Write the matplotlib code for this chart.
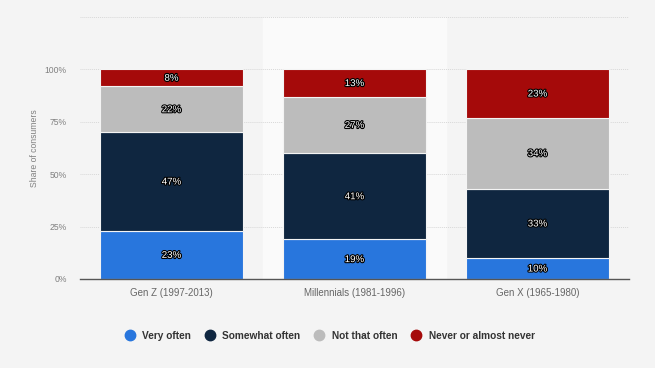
import matplotlib
matplotlib.use("Agg")
import matplotlib.pyplot as plt
import matplotlib.patheffects as pe
from matplotlib.lines import Line2D
import numpy as np

plt.rcParams['font.family'] = ['Liberation Sans', 'DejaVu Sans']

categories = ["Gen Z (1997-2013)", "Millennials (1981-1996)", "Gen X (1965-1980)"]
series_names = ["Very often", "Somewhat often", "Not that often", "Never or almost never"]
very_often = [23, 19, 10]
somewhat_often = [47, 41, 33]
not_that_often = [22, 27, 34]
never = [8, 13, 23]
yticks = [0, 25, 50, 75, 100]
ytick_labels = ["0%", "25%", "50%", "75%", "100%"]

colors = ["#2876dd", "#0f2640", "#bcbcbc", "#a50a0a"]
series = [very_often, somewhat_often, not_that_often, never]

fig = plt.figure(figsize=(6.55, 3.68), dpi=100)
fig.patch.set_facecolor("#f4f4f4")
ax = fig.add_axes([80/655, 1-279/368, 549/655, 262/368])
ax.set_facecolor("#f4f4f4")

x = np.arange(len(categories))
ax.set_xlim(-0.5, len(categories)-0.5)
ax.set_ylim(0, 125)

# highlight band for middle category
ax.axvspan(0.5, 1.5, color="#fafafa", zorder=0)

for yv in [25, 50, 75, 100, 125]:
    ax.axhline(yv, color="#d8d8d8", lw=0.7, ls=(0, (1, 1)), zorder=0.5)

bottom = np.zeros(len(categories))
for vals, col in zip(series, colors):
    vals = np.array(vals, dtype=float)
    ax.bar(x, vals, bottom=bottom, width=0.776, color=col, edgecolor="#f4f4f4",
           linewidth=0.8, zorder=2)
    for xi, b, v in zip(x, bottom, vals):
        ax.text(xi, b + v/2, f"{int(v)}%", ha="center", va="center", fontsize=7,
                color="white", zorder=3,
                path_effects=[pe.withStroke(linewidth=1.6, foreground="black")])
    bottom += vals

ax.set_xticks(x)
ax.set_xticklabels(categories, fontsize=7, color="#666666")
ax.set_yticks(yticks)
ax.set_yticklabels(ytick_labels, fontsize=6.2, color="#808080")
ax.tick_params(axis="both", length=0)
ax.tick_params(axis="x", pad=6.5)
ax.tick_params(axis="y", pad=9.5)
for s in ["top", "right", "left"]:
    ax.spines[s].set_visible(False)
ax.spines["bottom"].set_color("#555555")
ax.spines["bottom"].set_linewidth(1)
ax.set_ylabel("Share of consumers", fontsize=6.2, color="#808080", labelpad=4)

handles = [Line2D([0], [0], marker="o", ls="none", markersize=7.5,
                  markerfacecolor=c, markeredgecolor=c) for c in colors]
leg = fig.legend(handles, series_names, loc="center", bbox_to_anchor=(327/655, 1-336/368),
                 ncol=4, frameon=False, fontsize=7.3, handletextpad=0.2, columnspacing=0.9)
for t in leg.get_texts():
    t.set_color("#333333")
    t.set_fontweight("bold")

fig.savefig("out.png", dpi=100, facecolor=fig.get_facecolor())
